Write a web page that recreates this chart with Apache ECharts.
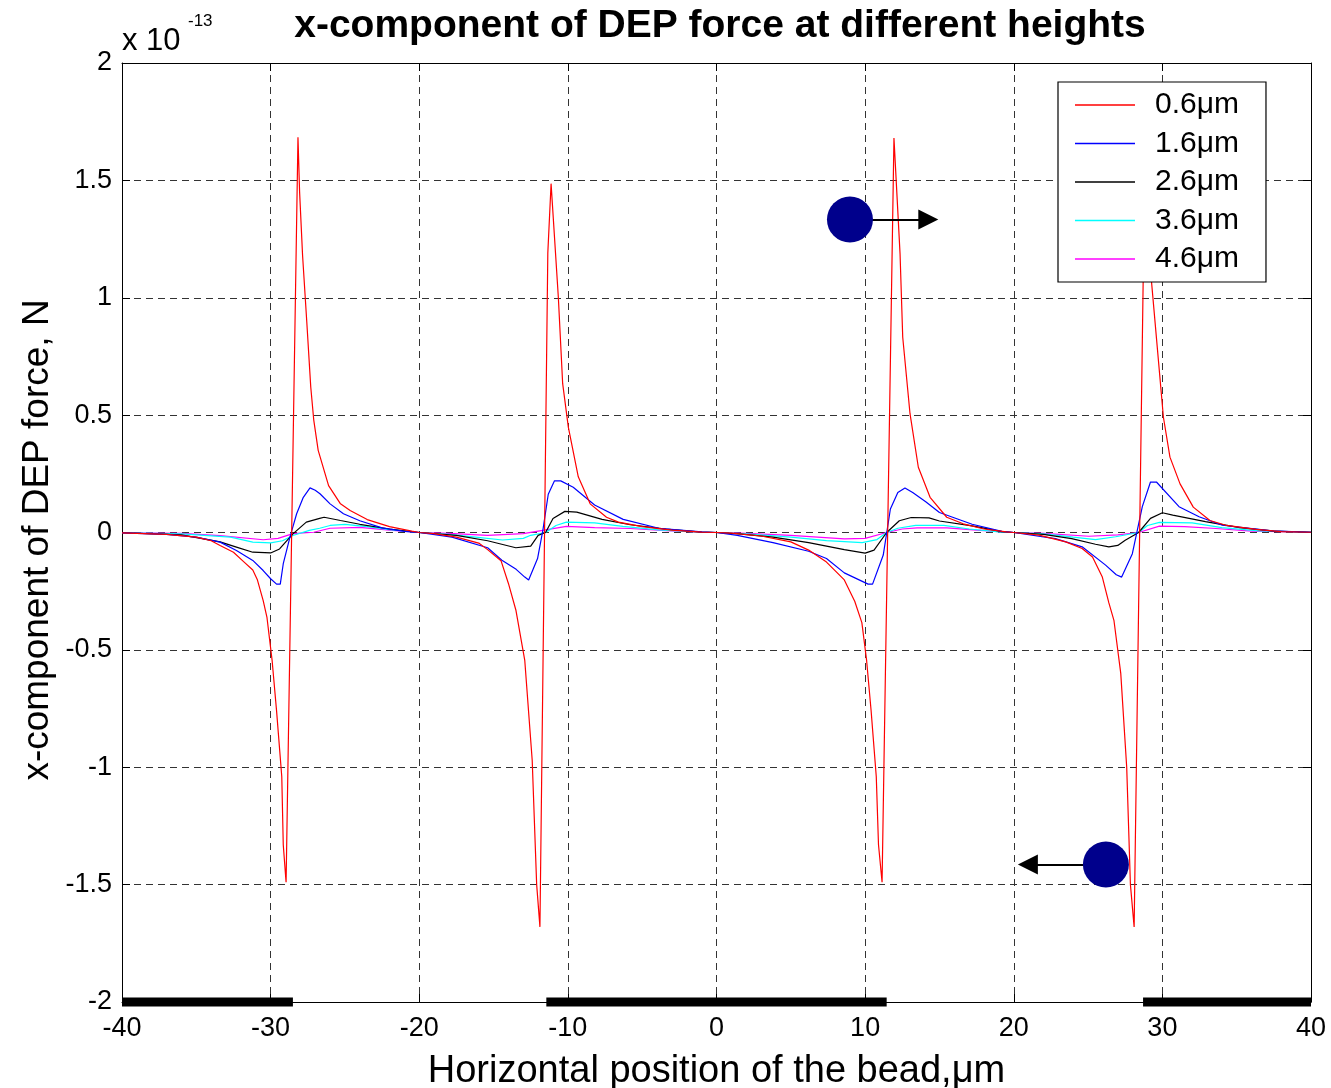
<!DOCTYPE html>
<html>
<head>
<meta charset="utf-8">
<title>x-component of DEP force at different heights</title>
<script src="https://cdn.jsdelivr.net/npm/echarts@6/dist/echarts.min.js"></script>
<style>
  html, body { margin: 0; padding: 0; background: #fff; }
  #chart { width: 1331px; height: 1088px; }
</style>
</head>
<body>
<div id="chart"></div>
<script>
// values, y in units of 1e-13 N, x in um
var names = ['0.6μm', '1.6μm', '2.6μm', '3.6μm', '4.6μm'];
var colors = ['#ff0000', '#0000ff', '#000000', '#00ffff', '#ff00ff'];

var h06 = [
  [-40,-0.002],[-37,-0.008],[-35,-0.02],[-34,-0.035],[-33.4,-0.055],[-32.5,-0.084],[-31.8,-0.125],[-31.2,-0.16],
  [-30.9,-0.2],[-30.5,-0.29],[-30.25,-0.36],[-29.9,-0.545],[-29.6,-0.76],[-29.25,-1.04],[-29.15,-1.33],[-28.96,-1.49],
  [-28.16,1.684],[-28.05,1.45],[-27.85,1.18],[-27.57,0.9],[-27.3,0.62],[-27.1,0.48],[-26.8,0.35],[-26.1,0.2],[-25.3,0.122],[-24.65,0.094],
  [-23.5,0.055],[-22,0.025],[-20.5,0.006],[-20,0],
  [-19,-0.005],[-17.5,-0.02],[-16,-0.045],[-15.4,-0.073],[-14.5,-0.12],[-14,-0.217],[-13.5,-0.33],[-12.9,-0.545],
  [-12.4,-0.97],[-12.1,-1.5],[-11.88,-1.68],[-11.35,1.19],[-11.13,1.486],[-10.64,1.0],[-10.35,0.634],[-9.97,0.449],
  [-9.3,0.237],[-8.5,0.122],[-7.4,0.065],[-6.6,0.044],[-5,0.025],[-3,0.01],[-1,0.002],[0,0],
  [1,-0.003],[3,-0.015],[5,-0.04],[6.2,-0.075],[7.4,-0.126],[8.6,-0.202],[9.3,-0.293],[9.78,-0.384],
  [10.1,-0.545],[10.4,-0.757],[10.75,-1.04],[10.9,-1.33],[11.14,-1.49],[11.94,1.68],[12.35,1.187],[12.53,0.832],
  [13.02,0.506],[13.58,0.278],[14.37,0.15],[15.49,0.065],[16.6,0.037],[18,0.015],[19.5,0.003],[20,0],
  [21.7,-0.011],[23.5,-0.04],[24.6,-0.068],[25.3,-0.104],[25.96,-0.19],[26.4,-0.3],[26.74,-0.374],[27.2,-0.6],
  [27.6,-1.0],[27.85,-1.5],[28.1,-1.68],[28.8,1.49],[29.28,1.06],[30.07,0.491],[30.51,0.321],[31.19,0.207],
  [32.08,0.108],[33.2,0.051],[34.33,0.03],[36.3,0.013],[38,0.004],[40,0.001]
];
var h16 = [
  [-40,-0.002],[-37,-0.008],[-35,-0.02],[-33.4,-0.041],[-32.3,-0.077],[-31.2,-0.119],[-30.5,-0.162],[-30,-0.197],
  [-29.6,-0.22],[-29.35,-0.22],[-29.15,-0.133],[-28.7,-0.02],[-28.25,0.08],[-27.8,0.15],[-27.35,0.19],[-27,0.18],
  [-26.68,0.165],[-26,0.122],[-25.1,0.08],[-24,0.05],[-22.5,0.02],[-21,0.005],[-20,0],
  [-17.8,-0.02],[-15.4,-0.065],[-14.44,-0.118],[-13.48,-0.157],[-12.9,-0.19],[-12.64,-0.202],[-12.04,-0.111],
  [-11.68,0.01],[-11.32,0.163],[-10.9,0.22],[-10.48,0.22],[-9.64,0.193],[-8.2,0.117],[-6.28,0.056],[-3.88,0.018],
  [-1,0.003],[0,0],
  [1.4,-0.012],[3.8,-0.043],[6.2,-0.08],[7.4,-0.111],[8.6,-0.172],[10.2,-0.22],[10.5,-0.22],[11.22,-0.096],
  [11.7,0.1],[12.2,0.17],[12.68,0.19],[13.2,0.17],[14.1,0.13],[15,0.085],[17.2,0.035],[19.2,0.005],[20,0],
  [22.8,-0.026],[24.6,-0.061],[26.18,-0.139],[26.9,-0.18],[27.26,-0.19],[27.98,-0.09],[28.65,0.11],[29.2,0.215],
  [29.6,0.215],[31.12,0.11],[32.47,0.067],[34.04,0.031],[37.4,0.007],[40,0.001]
];
var h26 = [
  [-40,-0.001],[-36,-0.01],[-33.4,-0.04],[-32.3,-0.062],[-31.2,-0.084],[-30,-0.087],[-29.4,-0.07],[-28.5,-0.006],
  [-27.6,0.044],[-26.7,0.06],[-26.4,0.065],[-25.3,0.051],[-24,0.035],[-22,0.015],[-20,0],
  [-17.5,-0.012],[-15.4,-0.035],[-13.5,-0.065],[-12.5,-0.058],[-12,-0.012],[-11.5,0],[-11,0.06],[-10.2,0.09],
  [-9.4,0.087],[-7.7,0.056],[-5.8,0.033],[-3.4,0.014],[-1,0.002],[0,0],
  [1.5,-0.006],[3.8,-0.02],[6.2,-0.043],[8.6,-0.073],[10,-0.088],[10.6,-0.075],[11.45,0],[12.3,0.05],
  [13.1,0.064],[14.3,0.062],[15,0.049],[17.2,0.028],[19.2,0.004],[20,0],
  [22,-0.008],[23.9,-0.026],[25.5,-0.05],[26.4,-0.061],[27,-0.055],[27.5,-0.033],[28.4,0],[29.2,0.06],
  [30,0.084],[30.7,0.074],[32.9,0.046],[35.2,0.021],[37.5,0.006],[40,0.001]
];
var h36 = [
  [-40,-0.001],[-36,-0.006],[-32.7,-0.02],[-31.2,-0.041],[-30,-0.044],[-29.2,-0.035],[-28.5,-0.013],[-27.4,0.009],
  [-26.7,0.018],[-26,0.03],[-25,0.035],[-23.5,0.025],[-22,0.012],[-20,0],
  [-18,-0.008],[-16.2,-0.02],[-14.4,-0.032],[-13,-0.025],[-12.5,-0.012],[-11.5,0],[-10.8,0.03],[-10.1,0.044],
  [-8.2,0.041],[-6.3,0.026],[-3.9,0.011],[-1,0.002],[0,0],
  [2,-0.006],[5,-0.02],[7.4,-0.035],[9.8,-0.043],[10.8,-0.03],[11.45,0],[12.2,0.018],[13.4,0.03],[14.1,0.03],
  [15.3,0.03],[17,0.015],[19,0.003],[20,0],
  [22,-0.006],[24,-0.02],[25.5,-0.03],[26.85,-0.018],[28.4,0],[29,0.03],[29.8,0.043],[32,0.041],[34,0.021],
  [36.5,0.007],[40,0.001]
];
var h46 = [
  [-40,-0.001],[-36,-0.004],[-33.4,-0.013],[-30.5,-0.031],[-29.5,-0.025],[-28.5,-0.005],[-27.1,0.001],[-26,0.018],
  [-24,0.022],[-22,0.01],[-20,0],
  [-18,-0.004],[-15.4,-0.012],[-13,-0.005],[-12,0.006],[-10.1,0.026],[-8.2,0.021],[-5.8,0.017],[-3.4,0.008],
  [-1,0.001],[0,0],
  [2,-0.004],[5,-0.012],[8.6,-0.027],[10,-0.025],[11.45,0],[12.5,0.015],[13.5,0.02],[15.5,0.02],[17.5,0.01],
  [19.5,0.002],[20,0],
  [22,-0.004],[25.06,-0.016],[27,-0.01],[28.4,0],[29.8,0.027],[31.5,0.025],[33.6,0.017],[36,0.006],[40,0.001]
];
var curves = [h06, h16, h26, h36, h46];

// electrodes drawn as thick bars on the bottom edge
var electrodes = [[-40, -28.5], [-11.45, 11.45], [28.7, 40]];
// beads (centre) and their arrows [from, to]
var beads = [[8.98, 1.333], [26.2, -1.414]];
var arrows = [
  [[10.4, 1.333], [14.25, 1.333]],
  [[24.7, -1.414], [20.95, -1.414]]
];

var font = 'Liberation Sans, Arial, sans-serif';
var chart = echarts.init(document.getElementById('chart'));

var series = [];
for (var i = 0; i < curves.length; i++) {
  series.push({
    name: names[i],
    type: 'line',
    data: curves[i],
    symbol: 'none',
    z: 3 + (curves.length - i) * 0.01,
    lineStyle: { color: colors[i], width: 1.2 },
    itemStyle: { color: colors[i] }
  });
}
electrodes.forEach(function (e) {
  series.push({
    type: 'line',
    data: [[e[0], -2], [e[1], -2]],
    symbol: 'none',
    clip: false,
    silent: true,
    z: 6,
    lineStyle: { color: '#000', width: 9, cap: 'butt' }
  });
});
series.push({
  type: 'scatter',
  data: beads,
  symbolSize: 46,
  silent: true,
  z: 6,
  itemStyle: { color: '#00008c', opacity: 1 },
  markLine: {
    silent: true,
    symbol: ['none', 'triangle'],
    symbolSize: [20, 20],
    label: { show: false },
    lineStyle: { color: '#000', width: 2, type: 'solid' },
    data: arrows.map(function (a) {
      return [{ coord: a[0] }, { coord: a[1] }];
    })
  }
});

var tickStyle = { inside: true, length: 8, lineStyle: { color: '#000' } };
var axisLine = { show: true, onZero: false, lineStyle: { color: '#000', width: 1 } };
var gridDash = { show: true, lineStyle: { color: '#333', width: 1, type: [7, 5] } };

chart.setOption({
  animation: false,
  backgroundColor: '#fff',
  grid: { left: 122, right: 20, top: 63, bottom: 86, outerBoundsMode: 'none', containLabel: false },
  legend: {
    data: names,
    orient: 'vertical',
    left: 1058,
    top: 82,
    padding: [8, 27, 8, 17],
    icon: 'rect',
    itemWidth: 60,
    itemHeight: 1.3,
    itemGap: 8.5,
    backgroundColor: '#fff',
    borderColor: '#000',
    borderWidth: 1.2,
    textStyle: { fontFamily: font, fontSize: 30, color: '#000', lineHeight: 30, padding: [0, 0, 0, 15] }
  },
  graphic: [
    {
      type: 'text', x: 720, y: 26, z: 10,
      style: { text: 'x-component of DEP force at different heights', font: 'bold 39px ' + font,
               fill: '#000', align: 'center', verticalAlign: 'middle' }
    },
    { type: 'text', x: 122, y: 41, style: { text: 'x 10', font: '31px ' + font, fill: '#000', verticalAlign: 'middle' } },
    { type: 'text', x: 188, y: 21, style: { text: '-13', font: '17px ' + font, fill: '#000', verticalAlign: 'middle' } },
    {
      type: 'text', x: 38, y: 540, rotation: Math.PI / 2,
      style: { text: 'x-component of DEP force, N', font: '37px ' + font, fill: '#000',
               align: 'center', verticalAlign: 'middle' }
    }
  ],
  xAxis: [
    {
      type: 'value', min: -40, max: 40, interval: 10,
      name: 'Horizontal position of the bead,μm', nameLocation: 'middle', nameGap: 51,
      nameTextStyle: { fontFamily: font, fontSize: 38, color: '#000' },
      axisLine: axisLine, axisTick: tickStyle, splitLine: gridDash,
      axisLabel: { fontFamily: font, fontSize: 27, color: '#000', margin: 13 }
    },
    {
      type: 'value', position: 'top', min: -40, max: 40, interval: 10,
      axisLine: axisLine, axisTick: tickStyle, splitLine: { show: false }, axisLabel: { show: false }
    }
  ],
  yAxis: [
    {
      type: 'value', min: -2, max: 2, interval: 0.5,
      axisLine: axisLine, axisTick: tickStyle, splitLine: gridDash,
      axisLabel: { fontFamily: font, fontSize: 27, color: '#000', margin: 10 }
    },
    {
      type: 'value', position: 'right', min: -2, max: 2, interval: 0.5,
      axisLine: axisLine, axisTick: tickStyle, splitLine: { show: false }, axisLabel: { show: false }
    }
  ],
  series: series
});
</script>
</body>
</html>
